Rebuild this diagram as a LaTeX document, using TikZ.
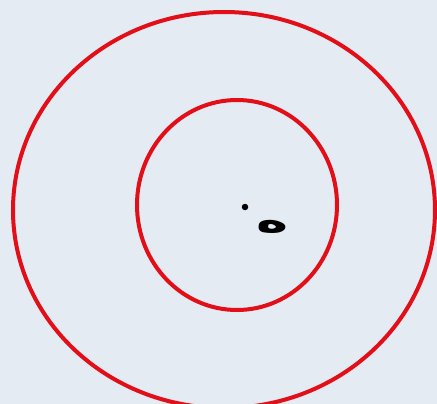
\documentclass[tikz,border=0pt]{standalone}
\usepackage{fontspec}
\newfontfamily\arabicfont[Script=Arabic]{DejaVu Sans}
\TeXXeTstate=1
\definecolor{bgc}{RGB}{228,235,243}
\definecolor{ringred}{RGB}{226,14,24}
\tikzset{ring/.style={draw=ringred,line width=4pt},
  ptdot/.style={circle,fill=black,inner sep=0pt,minimum size=6.5pt},
  lbl/.style={inner sep=0pt,xscale=1.6,font=\arabicfont\bfseries\fontsize{34}{34}\selectfont}}
\begin{document}
\begin{tikzpicture}[x=1pt,y=-1pt]
\fill[bgc] (0,0) rectangle (437,404);
\useasboundingbox (0,0) rectangle (437,404);
\draw[ring] (224,210) ellipse [x radius=211, y radius=198];
\draw[ring] (237,205) ellipse [x radius=100, y radius=105];
\node[ptdot] (o) at (245,207) {};
\node[lbl] (h) at (273,227) {\beginR ه\endR};
\end{tikzpicture}
\end{document}
